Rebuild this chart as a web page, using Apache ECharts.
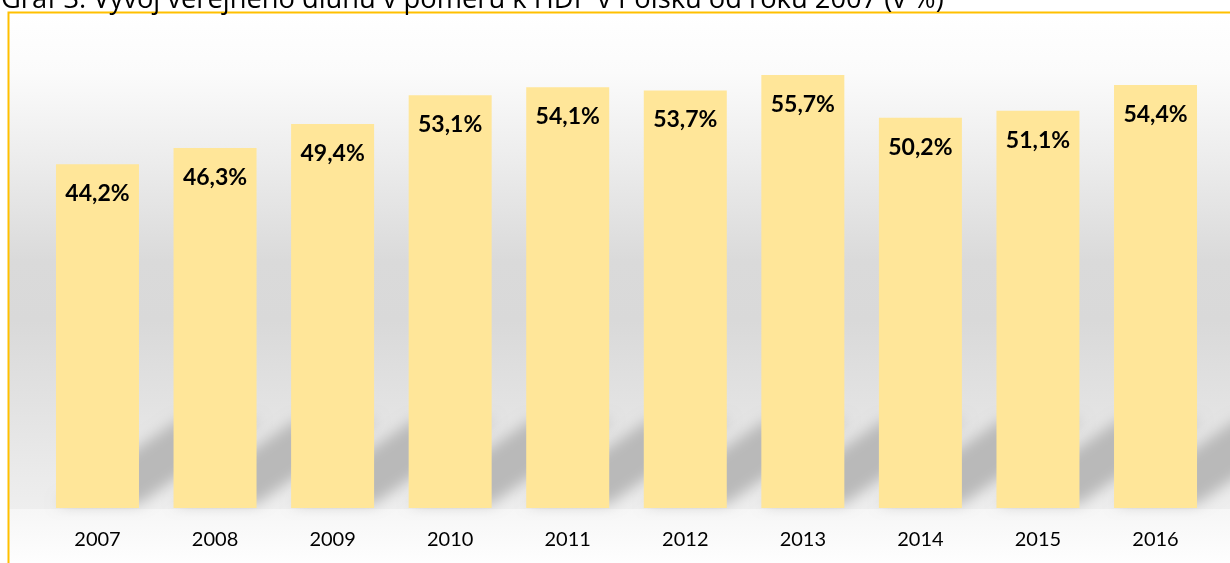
<!DOCTYPE html>
<html>
<head>
<meta charset="utf-8">
<script src="https://cdn.jsdelivr.net/npm/echarts@6/dist/echarts.min.js"></script>
<style>
html,body{margin:0;padding:0;background:#fff;}
#c{width:1230px;height:563px;}
</style>
</head>
<body>
<div id="c"></div>
<script>
const titleText = 'Graf 3: Vývoj veřejného dluhu v poměru k HDP v Polsku od roku 2007 (v %)';
const years = ['2007','2008','2009','2010','2011','2012','2013','2014','2015','2016'];
const debt = [44.2, 46.3, 49.4, 53.1, 54.1, 53.7, 55.7, 50.2, 51.1, 54.4];

const chart = echarts.init(document.getElementById('c'), null, {renderer:'canvas'});

function fmt(v){ return v.toFixed(1).replace('.', ',') + '%'; }

const OFF = 3000;

const option = {
  animation: false,
  grid: {left: 38.7, right: 15.7, top: 41.5, bottom: 55},
  xAxis: {
    type: 'category',
    data: years,
    axisLine: {show: false},
    axisTick: {show: false},
    axisLabel: {color: '#000', fontFamily: 'Lato', fontSize: 20, margin: 22}
  },
  yAxis: {
    type: 'value',
    min: 0, max: 60,
    show: false,
    splitLine: {show: false}
  },
  graphic: {
    elements: [
      {
        type: 'rect', z: -10, silent: true,
        shape: {x: 9, y: 13, width: 1230, height: 496},
        style: {
          fill: new echarts.graphic.LinearGradient(0, 0, 0, 1, [
            {offset: 0, color: '#ffffff'},
            {offset: 0.12, color: '#fbfbfb'},
            {offset: 0.3, color: '#ececec'},
            {offset: 0.5, color: '#dadada'},
            {offset: 0.62, color: '#d9d9d9'},
            {offset: 0.8, color: '#e3e3e3'},
            {offset: 0.92, color: '#eaeaea'},
            {offset: 1, color: '#eeeeee'}
          ])
        }
      },
      {
        type: 'rect', z: -10, silent: true,
        shape: {x: 9, y: 509, width: 1230, height: 60},
        style: {
          fill: new echarts.graphic.LinearGradient(0, 0, 0, 1, [
            {offset: 0, color: '#f6f6f6'},
            {offset: 1, color: '#ffffff'}
          ])
        }
      },
      {
        type: 'rect', z: 100, silent: true,
        shape: {x: 8.5, y: 12.5, width: 1300, height: 700},
        style: {fill: 'none', stroke: '#FFC000', lineWidth: 2}
      },
      {
        type: 'text', z: 100, silent: true,
        x: 1, y: 0,
        style: {
          text: titleText,
          fill: '#000',
          font: '27.3px "Open Sans"',
          verticalAlign: 'middle',
          align: 'left'
        }
      }
    ]
  },
  series: [
    {
      type: 'custom',
      z: 1,
      silent: true,
      renderItem: function(params, api){
        const idx = api.value(0);
        const top = api.coord([idx, api.value(1)]);
        const base = api.coord([idx, 0]);
        const band = api.size([1, 0])[0];
        const w = band * 0.706;
        const xL = top[0] - w/2, xR = top[0] + w/2, yb = base[1] - 4;
        const dx = 122, dy = 84;
        return {
          type: 'polygon',
          shape: {points: [[xL - OFF, yb], [xR - OFF, yb], [xR + dx - OFF, yb - dy], [xL + dx - OFF, yb - dy]]},
          style: {fill: '#bdbdbd', shadowBlur: 14, shadowColor: '#b9b9b9', shadowOffsetX: OFF, shadowOffsetY: 0}
        };
      },
      encode: {x: 0, y: 1},
      data: debt.map((v, i) => [i, v])
    },
    {
      type: 'bar',
      z: 3,
      data: debt,
      barWidth: '70.6%',
      itemStyle: {color: '#FFE699'},
      label: {
        show: true,
        position: 'insideTop',
        distance: 18,
        color: '#000',
        fontFamily: 'Lato',
        fontWeight: 'bold',
        fontSize: 23,
        formatter: p => fmt(p.value)
      }
    }
  ]
};
chart.setOption(option);
</script>
</body>
</html>
